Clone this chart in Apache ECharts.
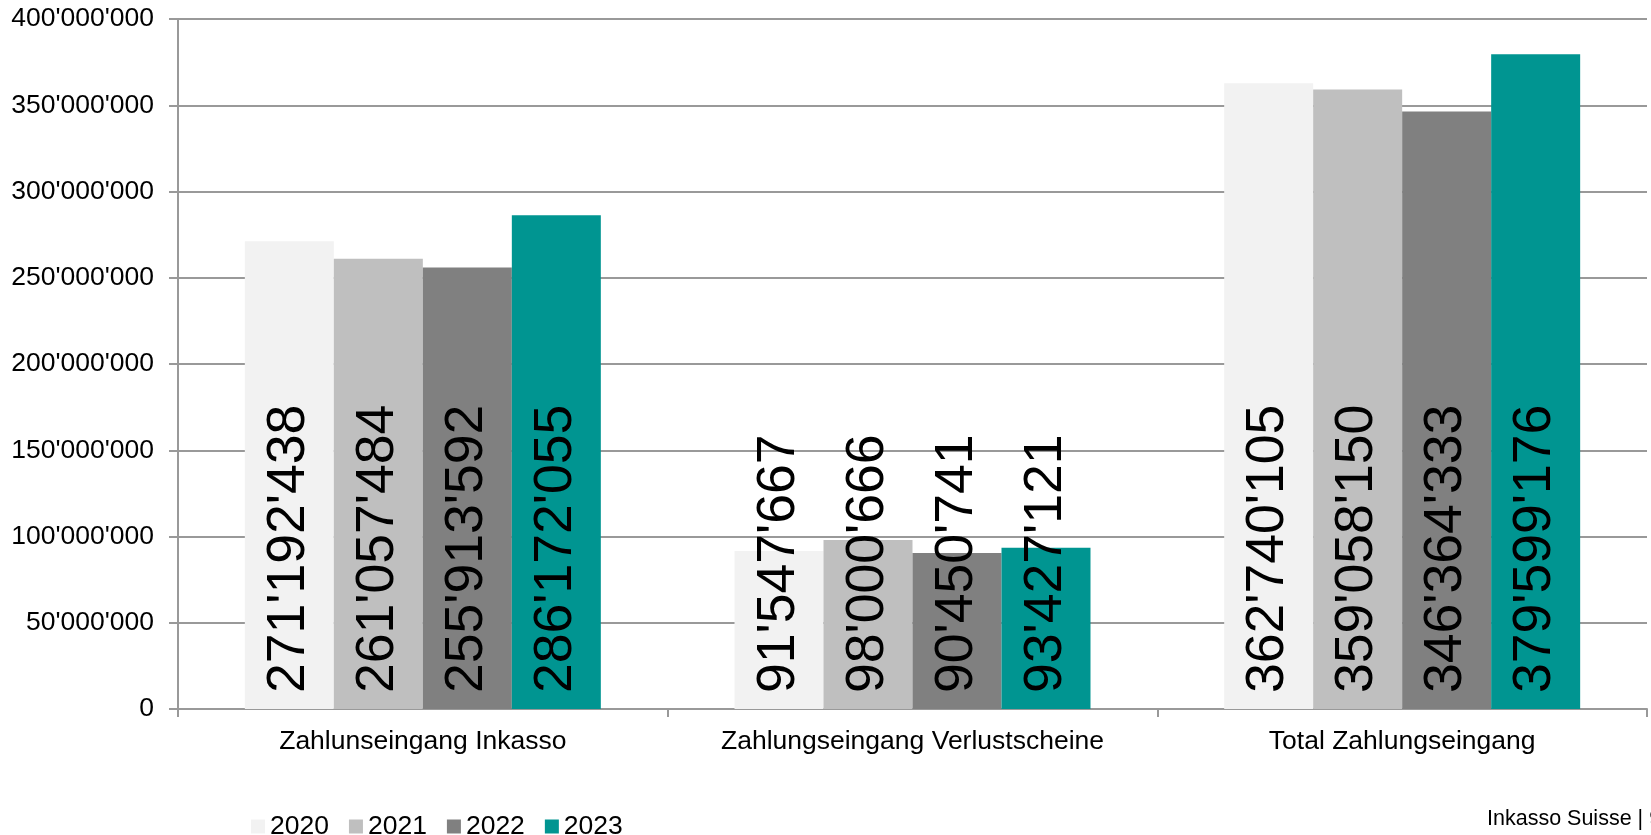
<!DOCTYPE html>
<html>
<head>
<meta charset="utf-8">
<script src="https://cdn.jsdelivr.net/npm/echarts@6/dist/echarts.min.js"></script>
<style>
  html, body { margin: 0; padding: 0; background: #fff; }
  #chart { width: 1651px; height: 835px; }
</style>
</head>
<body>
<div id="chart"></div>
<script>
// Kategorien und Werte pro Jahr
var categories = ['Zahlunseingang Inkasso', 'Zahlungseingang Verlustscheine', 'Total Zahlungseingang'];
var years = ['2020', '2021', '2022', '2023'];
var values2020 = [271192438, 91547667, 362740105];
var values2021 = [261057484, 98000666, 359058150];
var values2022 = [255913592, 90450741, 346364333];
var values2023 = [286172055, 93427121, 379599176];
var colors = ['#F2F2F2', '#BFBFBF', '#808080', '#009591'];

var font = 'Liberation Sans, Arial, sans-serif';

function fmt(v) {
    return String(Math.round(v)).replace(/\B(?=(\d{3})+(?!\d))/g, "'");
}

function makeSeries(name, data, color) {
    return {
        name: name,
        type: 'bar',
        data: data,
        barGap: '0%',
        barCategoryGap: '27.3%',
        itemStyle: { color: color },
        label: {
            show: true,
            position: 'insideBottom',
            rotate: 90,
            align: 'left',
            verticalAlign: 'middle',
            distance: 16,
            color: '#000',
            fontFamily: font,
            fontSize: 53.5,
            formatter: function (p) { return fmt(p.value); }
        }
    };
}

var option = {
    animation: false,
    color: colors,
    grid: { left: 178, right: 4, top: 19, bottom: 126 },
    legend: {
        data: years,
        left: 246,
        top: 808,
        itemWidth: 14,
        itemHeight: 14,
        itemGap: 20,
        icon: 'rect',
        textStyle: { fontFamily: font, fontSize: 26.5, color: '#000' }
    },
    xAxis: {
        type: 'category',
        data: categories,
        axisLine: { lineStyle: { color: '#999', width: 2 } },
        axisTick: { show: true, interval: 0, length: 8, lineStyle: { color: '#999', width: 2 } },
        axisLabel: {
            interval: 0, hideOverlap: false,
            fontFamily: font, fontSize: 26.5, color: '#000', margin: 19
        }
    },
    yAxis: {
        type: 'value',
        min: 0,
        max: 400000000,
        interval: 50000000,
        axisLine: { show: true, lineStyle: { color: '#999', width: 2 } },
        axisTick: { show: true, length: 9, lineStyle: { color: '#999', width: 2 } },
        splitLine: { lineStyle: { color: '#999', width: 2 } },
        axisLabel: {
            fontFamily: font, fontSize: 26.5, color: '#000', margin: 24,
            formatter: function (v) { return fmt(v); }
        }
    },
    graphic: [{
        type: 'text',
        left: 1487,
        top: 808,
        style: { text: 'Inkasso Suisse | 9', fontFamily: font, fontSize: 21.5, fill: '#000' }
    }],
    series: [
        makeSeries('2020', values2020, colors[0]),
        makeSeries('2021', values2021, colors[1]),
        makeSeries('2022', values2022, colors[2]),
        makeSeries('2023', values2023, colors[3])
    ]
};

var chart = echarts.init(document.getElementById('chart'));
chart.setOption(option);
</script>
</body>
</html>
